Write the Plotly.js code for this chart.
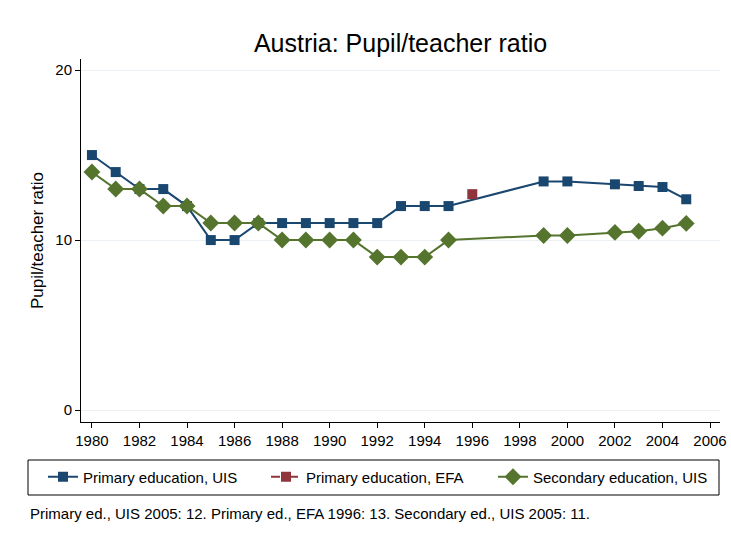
<!DOCTYPE html>
<html><head><meta charset="utf-8">
<script src="https://cdn.plot.ly/plotly-3.0.1.min.js"></script>
<style>body{margin:0;background:#fff}#c{width:731px;height:540px}</style>
</head><body><div id="c"></div>
<script>
const primaryYears = [1980,1981,1982,1983,1984,1985,1986,1987,1988,1989,1990,1991,1992,1993,1994,1995,1999,2000,2002,2003,2004,2005];
const primaryUIS   = [15,14,13,13,12,10,10,11,11,11,11,11,11,12,12,12,13.45,13.45,13.28,13.18,13.12,12.4];
const efaYears = [1996];
const primaryEFA = [12.7];
const secondaryYears = [1980,1981,1982,1983,1984,1985,1986,1987,1988,1989,1990,1991,1992,1993,1994,1995,1999,2000,2002,2003,2004,2005];
const secondaryUIS   = [14,13,13,12,12,11,11,11,10,10,10,10,9,9,9,10,10.27,10.27,10.45,10.52,10.7,10.98];
const xTicks = [1980,1982,1984,1986,1988,1990,1992,1994,1996,1998,2000,2002,2004,2006];
const yTicks = [0,10,20];

const L=81,R=720,T=59,B=422,W=731,H=540;
const px=x=>(x-L)/(R-L), py=y=>(B-y)/(B-T);

const traces=[
 {x:primaryYears,y:primaryUIS,name:'Primary education, UIS',mode:'lines+markers',legend:'legend',
  line:{color:'#1a476f',width:2},marker:{symbol:'square',size:10,color:'#1a476f'}},
 {x:efaYears,y:primaryEFA,name:'Primary education, EFA',mode:'lines+markers',legend:'legend2',
  line:{color:'#90353b',width:2,dash:'dash'},marker:{symbol:'square',size:10,color:'#90353b'}},
 {x:secondaryYears,y:secondaryUIS,name:'Secondary education, UIS',mode:'lines+markers',legend:'legend3',
  line:{color:'#55752f',width:2},marker:{symbol:'diamond',size:13,color:'#55752f'}}
];
const leg=(xp)=>({orientation:'h',x:px(xp),xanchor:'left',y:py(477),yanchor:'middle',
   font:{size:15},bgcolor:'rgba(0,0,0,0)',borderwidth:0});
const layout={
 width:W,height:540,
 margin:{l:L,r:W-R,t:T,b:H-B},
 paper_bgcolor:'#fff',plot_bgcolor:'#fff',
 font:{family:'Liberation Sans, Arial, sans-serif',color:'#000',size:15},
 title:{text:'Austria: Pupil/teacher ratio',xref:'paper',x:0.5,xanchor:'center',y:1-43/H,yanchor:'middle',font:{size:25,color:'#000'}},
 xaxis:{range:[1979.54,2006.42],tickvals:xTicks,ticktext:xTicks.map(String),ticks:'outside',ticklen:5,
   tickcolor:'#000',showgrid:false,zeroline:false,showline:true,linecolor:'#000',linewidth:1,
   tickfont:{size:15}},
 yaxis:{range:[-0.7,20.65],tickvals:yTicks,ticktext:yTicks.map(String),ticks:'outside',ticklen:5,
   tickcolor:'#000',showgrid:true,gridcolor:'#eaf0f3',gridwidth:1,zeroline:false,showline:true,linecolor:'#000',linewidth:1,
   tickfont:{size:15},title:{text:'Pupil/teacher ratio',font:{size:17},standoff:7}},
 showlegend:true,
 legend:leg(43),legend2:leg(266),legend3:leg(493),
 shapes:[{type:'rect',xref:'paper',yref:'paper',x0:px(28),x1:px(719),y0:py(460),y1:py(495),
   line:{color:'#000',width:1},fillcolor:'rgba(0,0,0,0)'}],
 annotations:[{text:'Primary ed., UIS 2005: 12. Primary ed., EFA 1996: 13. Secondary ed., UIS 2005: 11.',
   xref:'paper',yref:'paper',x:px(28),y:py(513),xanchor:'left',yanchor:'middle',showarrow:false,font:{size:15}}]
};
Plotly.newPlot('c',traces,layout,{displayModeBar:false});
</script></body></html>
